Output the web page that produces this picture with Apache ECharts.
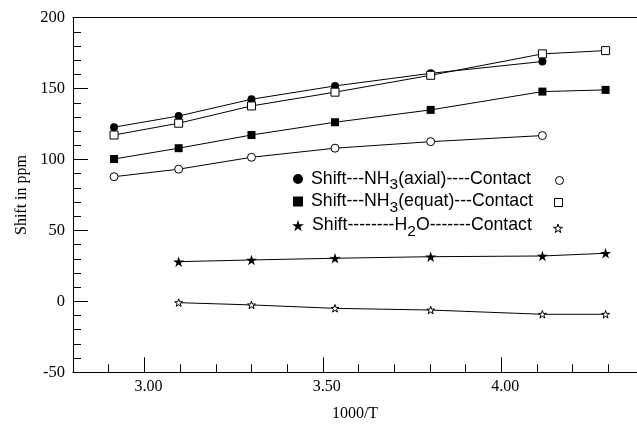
<!DOCTYPE html>
<html>
<head>
<meta charset="utf-8">
<script src="https://cdn.jsdelivr.net/npm/echarts@6/dist/echarts.min.js"></script>
<style>
html,body{margin:0;padding:0;background:#fff;}
#chart{width:637px;height:431px;}
</style>
</head>
<body>
<div id="chart"></div>
<script>
// 1000/T values
const xValues = [2.915, 3.096, 3.300, 3.534, 3.802, 4.115, 4.292];
// Shift in ppm
const axialShift   = [122.8, 130.7, 142.5, 151.9, 160.8, 169.1];
const axialContact = [87.9, 93.2, 101.6, 108.0, 112.6, 116.9];
const equatShift   = [100.4, 108.0, 117.3, 126.3, 135.0, 147.9, 149.1];
const equatContact = [117.3, 125.6, 137.8, 147.5, 159.4, 174.5, 176.8];
const waterShift   = [null, 28.0, 29.2, 30.4, 31.5, 32.0, 33.9];
const waterContact = [null, -0.9, -2.5, -4.9, -6.1, -9.1, -9.1];
const xTickLabels = [3.0, 3.5, 4.0];
const legendTexts = [
  'Shift---NH{sub|3}(axial)----Contact',
  'Shift---NH{sub|3}(equat)---Contact',
  'Shift--------H{sub|2}O-------Contact'
];

const STAR = 'path://M0,-10L2.245,-3.09L9.511,-3.09L3.633,1.18L5.878,8.09L0,3.82L-5.878,8.09L-3.633,1.18L-9.511,-3.09L-2.245,-3.09Z';

function pairs(vals) {
  const out = [];
  vals.forEach((v, i) => { if (v !== null && v !== undefined) out.push([xValues[i], v]); });
  return out;
}

const filled = { color: '#000', borderColor: '#000', borderWidth: 0 };
const open = { color: '#fff', borderColor: '#000', borderWidth: 1 };

function mkSeries(name, vals, symbol, size, style) {
  return {
    name: name, type: 'line', data: pairs(vals),
    xAxisIndex: 0, yAxisIndex: 0,
    symbol: symbol, symbolSize: size, symbolKeepAspect: true, showSymbol: true,
    lineStyle: { color: '#000', width: 1 },
    itemStyle: style,
    emphasis: { disabled: true },
    animation: false,
    z: 3
  };
}

const series = [
  mkSeries('axialShift', axialShift, 'circle', 8, filled),
  mkSeries('axialContact', axialContact, 'circle', 8, open),
  mkSeries('equatShift', equatShift, 'rect', 8, filled),
  mkSeries('equatContact', equatContact, 'rect', 8, open),
  mkSeries('waterShift', waterShift, STAR, 11, filled),
  mkSeries('waterContact', waterContact, STAR, 8, open)
];

const richStyle = {
  sub: { fontSize: 15.5, fontFamily: 'Liberation Sans', color: '#000', padding: [12, 0, 0, 0] }
};

function legendItem(name, icon, size, left, top, text, style) {
  return {
    show: true, selectedMode: false,
    left: left, top: top,
    orient: 'vertical',
    padding: 0,
    itemWidth: size, itemHeight: size,
    itemStyle: style,
    lineStyle: { opacity: 0 },
    data: [{ name: name, icon: icon }],
    formatter: function () { return text || ''; },
    textStyle: {
      fontFamily: 'Liberation Sans', fontSize: 17.7, color: '#000',
      padding: [0, 0, 0, 3],
      rich: richStyle
    }
  };
}

const fillL = { color: '#000', borderColor: '#000', borderWidth: 0 };
const openL = { color: '#fff', borderColor: '#000', borderWidth: 1 };

const legends = [
  legendItem('axialShift', 'circle', 10, 293, 177 - 7, legendTexts[0], fillL),
  legendItem('equatShift', 'rect', 10, 293, 199.5 - 7, legendTexts[1], fillL),
  legendItem('waterShift', STAR, 12, 292, 224.5 - 8, legendTexts[2], fillL),
  legendItem('axialContact', 'circle', 8, 555, 176, '', openL),
  legendItem('equatContact', 'rect', 8, 554, 198, '', openL),
  legendItem('waterContact', STAR, 9, 553, 223.5, '', openL)
];

const serif = 'Liberation Serif';
const gridBox = { left: 73, right: 0, top: 17.7, bottom: 58.7, containLabel: false };

const option = {
  backgroundColor: '#fff',
  animation: false,
  grid: [Object.assign({}, gridBox), Object.assign({}, gridBox)],
  legend: legends,
  xAxis: [
    {
      gridIndex: 0,
      type: 'value', min: 2.8, max: 4.38, interval: 0.1, position: 'bottom',
      axisLine: { show: true, onZero: false, lineStyle: { color: '#000', width: 1 } },
      axisTick: { show: true, inside: true, length: 8, lineStyle: { color: '#000' } },
      axisLabel: { show: false },
      splitLine: { show: false }
    },
    {
      gridIndex: 1,
      type: 'value', min: 2.8, max: 4.38, position: 'bottom',
      name: '1000/T', nameLocation: 'middle', nameGap: 33,
      nameTextStyle: { fontFamily: serif, fontSize: 16, color: '#000' },
      axisLine: { show: false, onZero: false },
      axisTick: { show: true, inside: true, length: 15, customValues: xTickLabels, lineStyle: { color: '#000' } },
      axisLabel: {
        show: true, customValues: xTickLabels, margin: 6, padding: [0, 0, 0, 8],
        fontFamily: serif, fontSize: 16, color: '#000',
        formatter: function (v) { return Number(v).toFixed(2); }
      },
      splitLine: { show: false }
    },
    {
      gridIndex: 0,
      type: 'value', min: 2.8, max: 4.38, position: 'top',
      axisLine: { show: true, onZero: false, lineStyle: { color: '#000', width: 1 } },
      axisTick: { show: false }, axisLabel: { show: false }, splitLine: { show: false }
    }
  ],
  yAxis: [
    {
      gridIndex: 0,
      type: 'value', min: -50, max: 200, interval: 10, position: 'left',
      axisLine: { show: true, onZero: false, lineStyle: { color: '#000', width: 1 } },
      axisTick: { show: true, inside: true, length: 8, lineStyle: { color: '#000' } },
      axisLabel: { show: false },
      splitLine: { show: false }
    },
    {
      gridIndex: 1,
      type: 'value', min: -50, max: 200, interval: 50, position: 'left',
      name: 'Shift in ppm', nameLocation: 'middle', nameGap: 39, nameRotate: 90,
      nameTextStyle: { fontFamily: serif, fontSize: 16, color: '#000' },
      axisLine: { show: false, onZero: false },
      axisTick: { show: true, inside: true, length: 15, lineStyle: { color: '#000' } },
      axisLabel: { show: true, margin: 8, fontFamily: serif, fontSize: 16.5, color: '#000' },
      splitLine: { show: false }
    }
  ],
  series: series
};

const chart = echarts.init(document.getElementById('chart'), null, { renderer: 'canvas' });
chart.setOption(option);
</script>
</body>
</html>
